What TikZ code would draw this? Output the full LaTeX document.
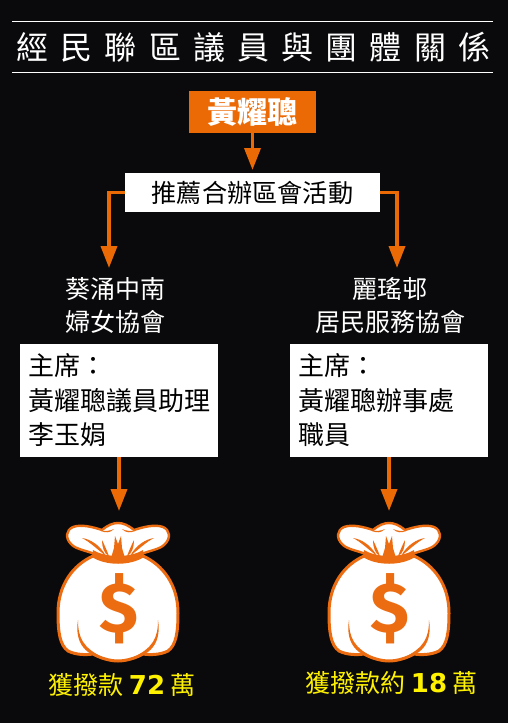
\documentclass[tikz,border=0pt]{standalone}
\usepackage{fontspec}
\usepackage{tikz}
\usetikzlibrary{arrows.meta}
\setmainfont{Noto Sans CJK TC}
\newfontfamily\titlefont[LetterSpace=38]{Noto Sans CJK TC}
\newfontfamily\sumfont{DejaVu Sans}
\newfontfamily\dollarfont{Fira Sans}
\definecolor{bagorange}{HTML}{EC6C12}
\definecolor{boxorange}{HTML}{EC6A05}
\definecolor{nightbg}{HTML}{0A0A0C}
\definecolor{sumyellow}{HTML}{FFF200}
\newcommand{\boxtext}{\fontsize{26}{34.5}\selectfont}
\newcommand{\grouptext}{\fontsize{25}{33}\selectfont}
\newcommand{\sumdigits}{\sumfont\fontsize{26}{30}\selectfont\bfseries}
\tikzset{
  whitebox/.style={fill=white,draw=none,inner sep=0pt},
  grouplabel/.style={text=white,align=center,font=\grouptext},
  sumlabel/.style={text=sumyellow,font=\fontsize{25}{30}\selectfont},
  flow/.style={-{Triangle[width=16pt,length=22pt]},boxorange,line width=3.6pt},
  moneybag/.pic={
    \fill[white,draw=bagorange,line width=3pt] (-25,33) .. controls (-45,42) and (-60,62) .. (-60,90)
      .. controls (-60,110) and (-58,122) .. (-50,128) .. controls (-42,132) and (-32,132) .. (-25,131)
      .. controls (-18,135) and (-8,138) .. (0,138) .. controls (8,138) and (18,135) .. (25,131)
      .. controls (32,132) and (42,132) .. (50,128) .. controls (58,122) and (60,110) .. (60,90)
      .. controls (60,62) and (45,42) .. (25,33) -- cycle;
    \fill[white,draw=bagorange,line width=2.4pt] (-22,32) .. controls (-28,28) and (-42,27) .. (-47,21)
      .. controls (-53,15) and (-52,7) .. (-45,4) .. controls (-37,1) and (-25,4) .. (-16,7)
      .. controls (-10,2) and (-5,0) .. (0,0) .. controls (5,0) and (10,2) .. (16,7)
      .. controls (25,4) and (37,1) .. (45,4) .. controls (52,7) and (53,15) .. (47,21)
      .. controls (42,27) and (28,28) .. (22,32) .. controls (10,37) and (-10,37) .. (-22,32) -- cycle;
    \fill[bagorange] (-25,27) .. controls (-12,35) and (12,35) .. (25,27) -- (26,34)
      .. controls (12,43) and (-12,43) .. (-26,34) -- cycle;
    \fill[bagorange] (-7,35) -- (-4,25) -- (-3,13) -- (0,21) -- (3,13) -- (4,25) -- (7,35)
      .. controls (3,33) and (-3,33) .. (-7,35) -- cycle;
    \foreach \s in {1,-1} {
      \begin{scope}[xscale=\s]
        \fill[bagorange] (-36,15) .. controls (-28,16) and (-18,22) .. (-12,33)
          .. controls (-20,27) and (-28,19) .. (-36,15) -- cycle;
        \fill[bagorange] (-16,17) .. controls (-13,23) and (-11,28) .. (-9,33)
          .. controls (-14,31) and (-16,24) .. (-16,17) -- cycle;
        \fill[bagorange] (-17,8) .. controls (-12,8) and (-8,8) .. (-4,6)
          .. controls (-8,10) and (-12,10) .. (-17,8) -- cycle;
        \fill[bagorange] (-40,97) .. controls (-40,115) and (-35,125) .. (-14,135)
          .. controls (-30,133) and (-44,122) .. (-40,97) -- cycle;
      \end{scope}
    }
    \node[text=bagorange,font=\fontsize{71}{71}\dollarfont\bfseries] (dollar) at (0.5,86) {\$};
  }
}

\begin{document}
\begin{tikzpicture}[x=1pt,y=-1pt]
  \useasboundingbox (0,0) rectangle (508,723);
  \fill[nightbg] (0,0) rectangle (508,723);

  \coordinate (ruleAl) at (12,21.5);
  \coordinate (ruleAr) at (493,21.5);
  \coordinate (ruleBl) at (12,72.5);
  \coordinate (ruleBr) at (493,72.5);
  \draw[white,line width=1.2pt] (ruleAl) -- (ruleAr);
  \draw[white,line width=1.2pt] (ruleBl) -- (ruleBr);
  \node[text=white,font=\fontsize{32}{32}\titlefont] (title) at (253.5,47) {經民聯區議員與團體關係};

  \node[fill=boxorange,text=white,inner sep=0pt,minimum width=127pt,minimum height=42pt,font=\fontsize{30}{30}\selectfont\bfseries] (huang) at (252.5,112) {黃耀聰};
  \node[whitebox,minimum width=255pt,minimum height=39pt,font=\fontsize{25.2}{30}\selectfont] (event) at (252.5,192.5) {推薦合辦區會活動};

  \node[grouplabel] (kwai) at (115,306) {葵涌中南\\婦女協會};
  \node[grouplabel] (lai) at (390,306) {麗瑤邨\\居民服務協會};

  \node[whitebox,minimum width=198pt,minimum height=113pt] (leftbox) at (119,400.5) {};
  \node[whitebox,minimum width=198pt,minimum height=113pt] (rightbox) at (389,400.5) {};
  \node[anchor=west,align=left,inner sep=0pt,font=\boxtext] (lefttext) at (28,400.5) {主席：\\黃耀聰議員助理\\李玉娟};
  \node[anchor=west,align=left,inner sep=0pt,font=\boxtext] (righttext) at (298,400.5) {主席：\\黃耀聰辦事處\\職員};

  \coordinate (eventtop) at (252.5,170);
  \coordinate (kwaitip) at (109,268);
  \coordinate (laitip) at (397,268);
  \coordinate (leftbagtip) at (119,511);
  \coordinate (rightbagtip) at (389,511);

  \path[flow]
  (huang) edge (eventtop)
  (leftbox) edge (leftbagtip)
  (rightbox) edge (rightbagtip);
  \draw[flow] (event.west) -| (kwaitip);
  \draw[flow] (event.east) -| (laitip);

  \pic (leftbag) at (118,523) {moneybag};
  \pic (rightbag) at (389,523) {moneybag};

  \node[sumlabel] (leftsum) at (122,685) {獲撥款 {\sumdigits 72} 萬};
  \node[sumlabel] (rightsum) at (391.5,683) {獲撥款約 {\sumdigits 18} 萬};
\end{tikzpicture}
\end{document}
